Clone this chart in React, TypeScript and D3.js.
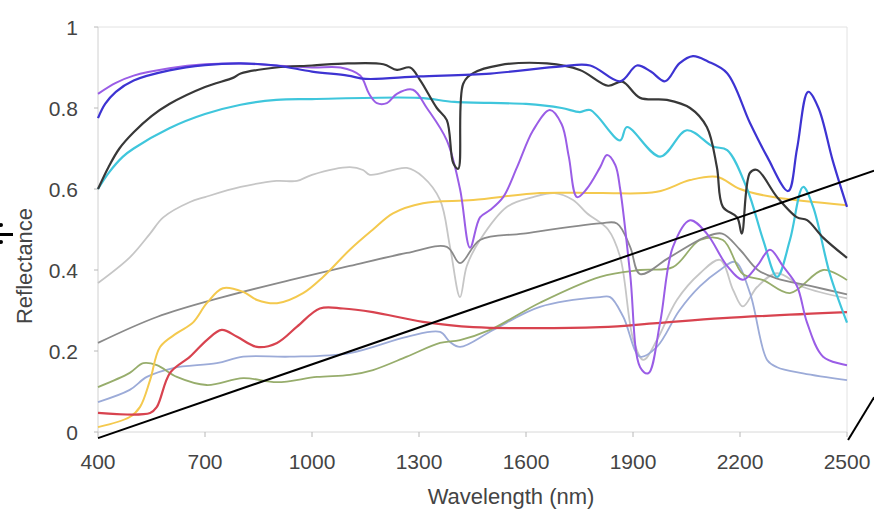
import * as d3 from 'd3';

// wavelength (nm), reflectance pairs
const blue = [[400,0.775],[420,0.81],[450,0.84],[500,0.868],[600,0.893],[700,0.906],[800,0.91],[900,0.905],[1000,0.89],[1100,0.88],[1150,0.872],[1300,0.878],[1500,0.885],[1700,0.903],[1780,0.905],[1864,0.866],[1911,0.905],[1950,0.89],[1990,0.866],[2030,0.91],[2068,0.928],[2110,0.915],[2164,0.886],[2228,0.763],[2276,0.68],[2335,0.595],[2360,0.7],[2391,0.84],[2420,0.8],[2460,0.67],[2500,0.556]];
const violet = [[400,0.835],[450,0.862],[500,0.88],[600,0.898],[700,0.908],[800,0.91],[900,0.905],[1000,0.9],[1080,0.9],[1135,0.88],[1160,0.835],[1182,0.812],[1210,0.812],[1238,0.835],[1283,0.845],[1322,0.8],[1378,0.72],[1415,0.6],[1443,0.455],[1471,0.53],[1499,0.548],[1536,0.58],[1575,0.654],[1620,0.745],[1667,0.795],[1700,0.76],[1720,0.68],[1743,0.58],[1770,0.6],[1808,0.654],[1827,0.684],[1850,0.66],[1864,0.6],[1892,0.39],[1920,0.16],[1943,0.145],[1976,0.27],[2012,0.457],[2060,0.523],[2107,0.49],[2164,0.41],[2208,0.376],[2248,0.41],[2284,0.45],[2320,0.41],[2360,0.36],[2388,0.27],[2433,0.186],[2500,0.165]];
const black = [[400,0.6],[430,0.655],[460,0.7],[500,0.74],[550,0.78],[600,0.81],[700,0.852],[780,0.875],[800,0.885],[900,0.9],[1000,0.905],[1100,0.91],[1200,0.908],[1238,0.894],[1275,0.9],[1303,0.869],[1350,0.8],[1378,0.77],[1396,0.664],[1410,0.65],[1424,0.86],[1452,0.886],[1527,0.906],[1659,0.91],[1751,0.894],[1830,0.855],[1870,0.865],[1920,0.825],[1995,0.82],[2060,0.8],[2107,0.753],[2135,0.655],[2152,0.556],[2192,0.53],[2205,0.49],[2228,0.64],[2248,0.647],[2304,0.58],[2360,0.53],[2388,0.523],[2433,0.48],[2500,0.43]];
const cyan = [[400,0.6],[430,0.64],[470,0.68],[500,0.7],[600,0.75],[700,0.785],[800,0.808],[900,0.82],[1000,0.822],[1300,0.825],[1400,0.815],[1600,0.81],[1700,0.8],[1751,0.79],[1780,0.795],[1864,0.72],[1883,0.753],[1976,0.68],[2051,0.745],[2124,0.705],[2164,0.696],[2220,0.6],[2265,0.474],[2304,0.383],[2340,0.474],[2377,0.605],[2405,0.556],[2452,0.39],[2500,0.27]];
const lightGray = [[400,0.368],[490,0.432],[546,0.49],[583,0.53],[658,0.568],[700,0.58],[800,0.605],[900,0.62],[958,0.62],[1000,0.635],[1106,0.654],[1143,0.647],[1162,0.635],[1266,0.652],[1311,0.63],[1359,0.573],[1387,0.457],[1415,0.333],[1434,0.41],[1471,0.474],[1547,0.556],[1620,0.58],[1680,0.59],[1732,0.573],[1771,0.54],[1830,0.5],[1864,0.432],[1901,0.227],[1929,0.178],[1967,0.227],[2023,0.326],[2088,0.392],[2144,0.425],[2181,0.35],[2208,0.31],[2248,0.358],[2304,0.392],[2377,0.358],[2500,0.33]];
const yellow = [[400,0.012],[489,0.037],[518,0.062],[546,0.128],[574,0.21],[621,0.244],[666,0.27],[705,0.318],[750,0.355],[807,0.346],[846,0.326],[902,0.318],[975,0.343],[1031,0.383],[1106,0.45],[1171,0.5],[1227,0.54],[1311,0.565],[1452,0.573],[1639,0.59],[1808,0.59],[1967,0.593],[2060,0.622],[2135,0.63],[2200,0.6],[2293,0.58],[2500,0.56]];
const darkGray = [[400,0.22],[565,0.284],[750,0.333],[938,0.375],[1106,0.41],[1266,0.442],[1378,0.457],[1415,0.417],[1471,0.474],[1592,0.49],[1808,0.515],[1855,0.515],[1892,0.457],[1920,0.39],[2000,0.43],[2100,0.48],[2150,0.49],[2200,0.45],[2250,0.4],[2300,0.38],[2400,0.36],[2500,0.34]];
const red = [[400,0.047],[546,0.047],[565,0.062],[602,0.146],[658,0.186],[705,0.227],[747,0.252],[790,0.235],[846,0.21],[902,0.22],[958,0.26],[1022,0.305],[1087,0.305],[1171,0.296],[1311,0.272],[1452,0.259],[1808,0.259],[1967,0.269],[2152,0.281],[2500,0.296]];
const steel = [[400,0.074],[489,0.104],[537,0.136],[611,0.158],[733,0.17],[807,0.186],[938,0.186],[1106,0.195],[1266,0.235],[1359,0.247],[1387,0.222],[1415,0.21],[1508,0.252],[1639,0.309],[1808,0.333],[1836,0.333],[1873,0.284],[1920,0.186],[1967,0.21],[2030,0.3],[2088,0.36],[2144,0.4],[2186,0.42],[2228,0.343],[2276,0.178],[2304,0.16],[2377,0.145],[2500,0.128]];
const olive = [[400,0.111],[489,0.146],[527,0.17],[565,0.165],[621,0.136],[705,0.116],[807,0.133],[902,0.123],[1014,0.136],[1106,0.141],[1171,0.153],[1266,0.186],[1359,0.22],[1415,0.227],[1499,0.252],[1639,0.319],[1808,0.383],[1920,0.4],[2012,0.407],[2088,0.474],[2152,0.474],[2208,0.39],[2265,0.375],[2340,0.343],[2433,0.4],[2500,0.375]];

const xTicks = [400, 700, 1000, 1300, 1600, 1900, 2200, 2500];
const yTicks = [0, 0.2, 0.4, 0.6, 0.8, 1];

// the two straight black strokes over the plot
const guideLines = [
  [[400, -0.015], [2576, 0.645]],
  [[2503, -0.02], [2576, 0.086]],
];

const series = [
  { data: lightGray, color: '#c6c6c6', w: 1.8 },
  { data: steel, color: '#9cabd8', w: 1.8 },
  { data: olive, color: '#97ad6c', w: 1.8 },
  { data: darkGray, color: '#8a8a8a', w: 1.8 },
  { data: yellow, color: '#f4c94e', w: 2 },
  { data: red, color: '#d8434f', w: 2.2 },
  { data: cyan, color: '#3fc6dc', w: 2.2 },
  { data: violet, color: '#9a5de6', w: 2 },
  { data: black, color: '#383838', w: 2.2 },
  { data: blue, color: '#3d33d2', w: 2.2 },
];

export default function App() {
  const width = 874;
  const height = 511;

  const x = d3.scaleLinear().domain([400, 2500]).range([98, 847]);
  const y = d3.scaleLinear().domain([0, 1]).range([432, 27]);

  const line = d3
    .line<number[]>()
    .x((d) => x(d[0]))
    .y((d) => y(d[1]))
    .curve(d3.curveCatmullRom.alpha(0.5));

  const font = 'Liberation Sans, Arial, sans-serif';

  return (
    <svg
      width={width}
      height={height}
      style={{ position: 'absolute', left: 0, top: 0, background: '#fff' }}
    >
      {/* frame */}
      <line x1={x(400)} x2={x(2500)} y1={y(1)} y2={y(1)} stroke="#e2e2e2" />
      <line x1={x(2500)} x2={x(2500)} y1={y(1)} y2={y(0)} stroke="#e2e2e2" />
      <line x1={x(400)} x2={x(400)} y1={y(1)} y2={y(0)} stroke="#d0d0d0" />
      <line x1={x(400)} x2={x(2500)} y1={y(0)} y2={y(0)} stroke="#d8d8d8" />

      {yTicks.map((t) => (
        <g key={t}>
          <line x1={x(400) - 4} x2={x(400)} y1={y(t)} y2={y(t)} stroke="#b8b8b8" />
          <text
            x={78}
            y={y(t)}
            dy="0.36em"
            textAnchor="end"
            fontFamily={font}
            fontSize={21}
            fill="#444"
          >
            {t}
          </text>
        </g>
      ))}
      {xTicks.map((t) => (
        <g key={t}>
          <line x1={x(t)} x2={x(t)} y1={y(0)} y2={y(0) + 5} stroke="#b8b8b8" />
          <text
            x={x(t)}
            y={469}
            textAnchor="middle"
            fontFamily={font}
            fontSize={21}
            fill="#444"
          >
            {t}
          </text>
        </g>
      ))}

      <text x={511} y={504} textAnchor="middle" fontFamily={font} fontSize={22} fill="#444">
        Wavelength (nm)
      </text>
      <text
        transform="translate(32, 266) rotate(-90)"
        textAnchor="middle"
        fontFamily={font}
        fontSize={22}
        fill="#444"
      >
        Reflectance
      </text>

      {series.map((s, i) => (
        <path
          key={i}
          d={line(s.data) || ''}
          fill="none"
          stroke={s.color}
          strokeWidth={s.w}
          strokeLinejoin="round"
        />
      ))}

      {guideLines.map((g, i) => (
        <line
          key={i}
          x1={x(g[0][0])}
          y1={y(g[0][1])}
          x2={x(g[1][0])}
          y2={y(g[1][1])}
          stroke="#000"
          strokeWidth={2}
        />
      ))}

      {/* cut-off mark at the left edge */}
      <rect x={0} y={233} width={13} height={3} fill="#000" />
      <circle cx={1} cy={225} r={2} fill="#000" />
      <circle cx={1} cy={242} r={2} fill="#000" />
    </svg>
  );
}
